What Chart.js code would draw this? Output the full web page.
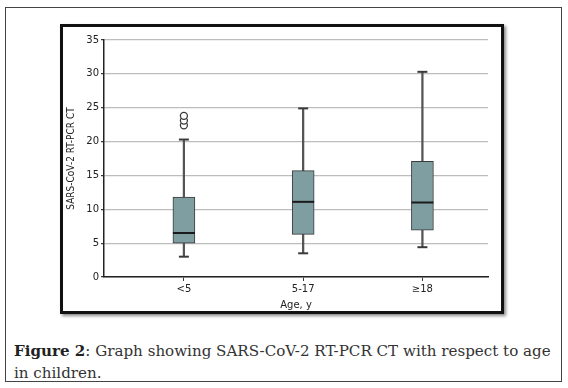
<!DOCTYPE html>
<html>
<head>
<meta charset="utf-8">
<script src="https://cdn.jsdelivr.net/npm/chart.js@4"></script>
<style>
  body { margin: 0; background: #fff; }
  #outer {
    position: absolute; left: 5px; top: 7px; width: 557px; height: 375px;
    border: 1px solid #444; box-sizing: border-box;
  }
  #frame {
    position: absolute; left: 60px; top: 24px; width: 444px; height: 290px;
    border: 3px solid #111; box-sizing: border-box;
    box-shadow: 2px 2px 3px #888; background: #fff;
  }
  #wrap { position: absolute; left: 0; top: 0; width: 438px; height: 284px; }
  #caption {
    position: absolute; left: 14px; top: 340px; width: 548px;
    font-family: "DejaVu Serif", serif; font-size: 15.1px; line-height: 22px; color: #333;
  }
  #caption b { color: #222; }
</style>
</head>
<body>
<div id="outer"></div>
<div id="frame"><div id="wrap"><canvas id="boxChart" width="438" height="284"></canvas></div></div>
<div id="caption"><b>Figure 2</b>: Graph showing SARS-CoV-2 RT-PCR CT with respect to age in children.</div>
<script>
// 연령 그룹과 상자 그림 값
var groups = ['<5', '5-17', '≥18'];
var whiskerLow = [3.0, 3.5, 4.4];
var q1 = [5.0, 6.3, 6.9];
var median = [6.5, 11.1, 11.0];
var q3 = [11.8, 15.7, 17.1];
var whiskerHigh = [20.3, 24.9, 30.3];
var outlierGroup = [0, 0, 0];
var outlierValues = [22.4, 23.1, 23.8];
var yTicks = [0, 5, 10, 15, 20, 25, 30, 35];

var dark = '#3a3a3a';
var boxFill = '#7f9ea1';
var labelFont = { family: 'DejaVu Sans', size: 10 };

var ctx = document.getElementById('boxChart').getContext('2d');
var boxChart = new Chart(ctx, {
    type: 'bar',
    data: {
        datasets: [{
            // 수염 (세로선)
            type: 'bar',
            data: groups.map(function (g, i) { return { x: i, y: [whiskerLow[i], whiskerHigh[i]] }; }),
            backgroundColor: '#555',
            barThickness: 1.6,
            grouped: false,
            order: 3
        }, {
            // 상자
            type: 'bar',
            data: groups.map(function (g, i) { return { x: i, y: [q1[i], q3[i]] }; }),
            backgroundColor: boxFill,
            borderColor: dark,
            borderWidth: 1,
            borderSkipped: false,
            barThickness: 22,
            grouped: false,
            order: 2
        }, {
            // 중앙값
            type: 'scatter',
            data: groups.map(function (g, i) { return { x: i, y: median[i] }; }),
            pointStyle: 'line',
            pointRadius: 11,
            borderColor: '#1a1a1a',
            borderWidth: 2,
            order: 1
        }, {
            // 수염 끝
            type: 'scatter',
            data: groups.map(function (g, i) { return { x: i, y: whiskerLow[i] }; })
                .concat(groups.map(function (g, i) { return { x: i, y: whiskerHigh[i] }; })),
            pointStyle: 'line',
            pointRadius: 5,
            borderColor: dark,
            borderWidth: 2,
            order: 1
        }, {
            // 이상치
            type: 'scatter',
            data: outlierValues.map(function (v, i) { return { x: outlierGroup[i], y: v }; }),
            pointStyle: 'circle',
            pointRadius: 3.5,
            backgroundColor: '#fff',
            borderColor: dark,
            borderWidth: 1.3,
            order: 0
        }]
    },
    options: {
        responsive: false,
        animation: false,
        layout: { padding: { left: 0, top: 7, right: 2, bottom: 0 } },
        plugins: { legend: { display: false }, tooltip: { enabled: false } },
        scales: {
            x: {
                type: 'linear',
                offset: false,
                min: -0.67,
                max: 2.55,
                afterBuildTicks: function (scale) {
                    scale.ticks = groups.map(function (g, i) { return { value: i }; });
                },
                afterFit: function (scale) { scale.height = 34; },
                ticks: {
                    callback: function (v) { return groups[v]; },
                    color: '#222',
                    font: labelFont,
                    padding: 2,
                    maxRotation: 0
                },
                grid: { drawOnChartArea: false, tickLength: 4, color: dark, offset: false },
                border: { color: '#222', width: 1.5 },
                title: {
                    display: true,
                    text: 'Age, y',
                    color: '#222',
                    font: labelFont,
                    padding: { top: 1, bottom: 0 }
                }
            },
            y: {
                min: 0,
                max: 35,
                afterBuildTicks: function (scale) {
                    scale.ticks = yTicks.map(function (v) { return { value: v }; });
                },
                afterFit: function (scale) { scale.width = 41; },
                ticks: {
                    color: '#222',
                    font: labelFont,
                    padding: 2
                },
                grid: { color: '#bdbdbd', lineWidth: 1.2, tickLength: 3, tickColor: dark },
                border: { color: '#222', width: 1.5 },
                title: {
                    display: true,
                    text: 'SARS-CoV-2 RT-PCR CT',
                    color: '#222',
                    font: { family: 'DejaVu Sans Condensed', size: 10 },
                    padding: { top: 2, bottom: 0 }
                }
            }
        }
    }
});
</script>
</body>
</html>
